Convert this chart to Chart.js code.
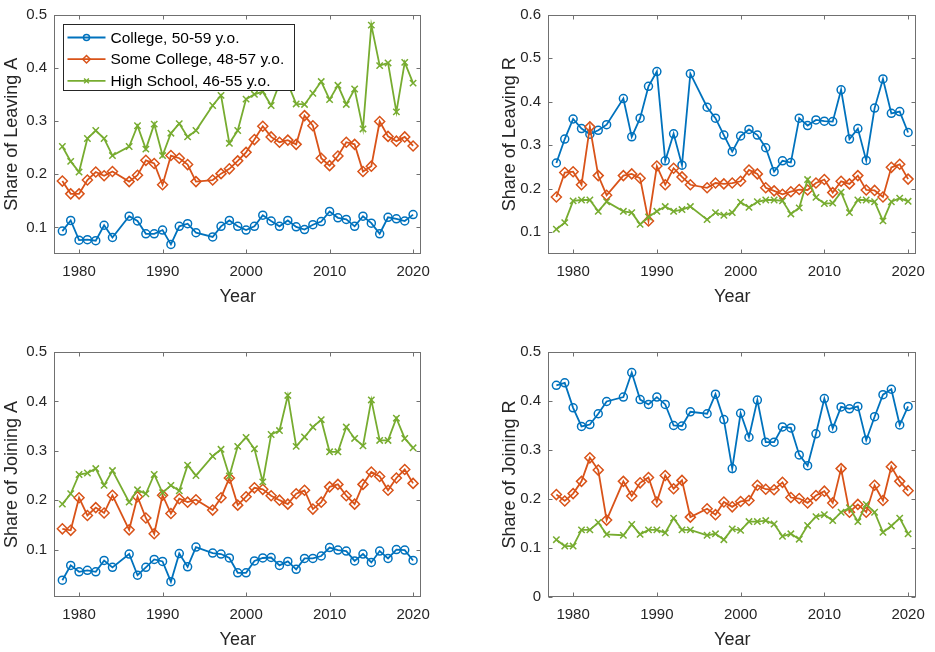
<!DOCTYPE html>
<html>
<head>
<meta charset="utf-8">
<title>Share of leaving and joining, by education</title>
<script src="https://cdn.jsdelivr.net/npm/chart.js@4.4.1/dist/chart.umd.min.js"></script>
<style>
  html, body { margin: 0; padding: 0; background: #fff; }
  #fig { position: relative; width: 935px; height: 652px; overflow: hidden; }
  #fig canvas { position: absolute; }
</style>
</head>
<body>
<div id="fig">
  <canvas id="leaveA" width="440" height="309" style="left:0;top:0"></canvas>
  <canvas id="leaveR" width="437" height="309" style="left:498px;top:0"></canvas>
  <canvas id="joinA" width="440" height="326" style="left:0;top:326px"></canvas>
  <canvas id="joinR" width="437" height="326" style="left:498px;top:326px"></canvas>
</div>
<script>
// Survey years (1985 and 1995 are not in the data)
const years = [1978, 1979, 1980, 1981, 1982, 1983, 1984,
  1986, 1987, 1988, 1989, 1990, 1991, 1992, 1993, 1994,
  1996, 1997, 1998, 1999, 2000, 2001, 2002, 2003, 2004, 2005, 2006, 2007, 2008,
  2009, 2010, 2011, 2012, 2013, 2014, 2015, 2016, 2017, 2018, 2019, 2020];

const seriesLabels = ['College, 50-59 y.o.', 'Some College, 48-57 y.o.', 'High School, 46-55 y.o.'];

// Share of leaving A
const leaveACollege = [.093, .113, .076, .077, .075, .104, .081,
  .121, .112, .088, .088, .095, .068, .102, .107, .090,
  .082, .102, .113, .102, .095, .102, .123, .112, .102, .113, .101, .096, .105,
  .111, .130, .118, .115, .102, .121, .108, .088, .119, .116, .112, .124];
const leaveASome = [.187, .163, .163, .189, .204, .197, .205,
  .186, .198, .226, .220, .180, .235, .230, .218, .186,
  .189, .201, .210, .225, .241, .265, .290, .270, .260, .264, .256, .310, .291,
  .230, .216, .234, .260, .256, .205, .215, .299, .271, .262, .270, .253];
const leaveAHigh = [.252, .224, .204, .267, .282, .267, .235,
  .252, .291, .247, .294, .235, .277, .295, .270, .282,
  .329, .348, .258, .282, .341, .350, .355, .329, .370, .370, .332, .331, .352,
  .374, .340, .367, .331, .360, .285, .480, .404, .409, .317, .410, .371];

// Share of leaving R
const leaveRCollege = [.259, .314, .360, .338, .325, .334, .347,
  .407, .319, .362, .435, .469, .264, .326, .254, .464,
  .387, .362, .323, .285, .321, .336, .323, .294, .239, .264, .260, .362, .345,
  .358, .355, .354, .427, .314, .338, .265, .385, .452, .373, .377, .329];
const leaveRSome = [.181, .237, .239, .209, .342, .230, .185,
  .230, .234, .224, .126, .252, .209, .247, .227, .209,
  .202, .213, .211, .213, .217, .243, .234, .202, .195, .187, .193, .198, .197,
  .213, .221, .191, .217, .211, .230, .197, .196, .181, .249, .256, .222];
const leaveRHigh = [.107, .122, .172, .174, .174, .148, .170,
  .148, .145, .118, .135, .148, .159, .148, .152, .159,
  .129, .145, .139, .145, .169, .157, .170, .174, .174, .172, .142, .156, .221,
  .180, .166, .167, .192, .145, .174, .174, .170, .126, .170, .178, .171];

// Share of joining A
const joinACollege = [.038, .068, .055, .058, .055, .078, .064,
  .091, .048, .064, .080, .076, .035, .092, .065, .105,
  .093, .091, .083, .053, .053, .077, .083, .084, .068, .076, .060, .082, .082,
  .087, .104, .099, .097, .077, .091, .074, .097, .082, .100, .099, .078];
const joinASome = [.142, .139, .205, .169, .185, .174, .210,
  .140, .207, .164, .132, .210, .173, .203, .196, .201,
  .180, .205, .245, .190, .207, .225, .222, .209, .200, .192, .213, .220, .182,
  .196, .227, .232, .209, .192, .232, .257, .248, .220, .245, .262, .234];
const joinAHigh = [.192, .213, .252, .255, .264, .230, .260,
  .196, .221, .213, .252, .215, .230, .219, .271, .250,
  .289, .303, .249, .309, .327, .304, .237, .333, .341, .412, .309, .328, .348,
  .363, .298, .298, .348, .325, .310, .403, .321, .321, .366, .325, .306];

// Share of joining R
const joinRCollege = [.432, .437, .386, .348, .352, .374, .399,
  .408, .458, .403, .393, .408, .393, .350, .349, .378,
  .374, .414, .362, .262, .375, .326, .402, .316, .316, .347, .345, .290, .268,
  .333, .405, .344, .388, .384, .389, .320, .368, .413, .424, .351, .389];
const joinRSome = [.209, .196, .211, .236, .284, .259, .157,
  .236, .206, .233, .244, .194, .248, .221, .238, .163,
  .180, .168, .194, .184, .195, .197, .228, .220, .219, .234, .203, .201, .192,
  .207, .216, .192, .262, .173, .189, .173, .228, .197, .266, .236, .217];
const joinRHigh = [.117, .104, .104, .137, .137, .152, .128,
  .126, .148, .128, .137, .137, .131, .161, .137, .137,
  .126, .129, .117, .139, .136, .154, .154, .156, .149, .124, .129, .118, .146,
  .164, .168, .156, .173, .182, .154, .189, .173, .132, .145, .161, .129];

// Tick values
const xTicks = [1980, 1990, 2000, 2010, 2020];
const yTicksTo05 = [0.1, 0.2, 0.3, 0.4, 0.5];
const yTicksTo06 = [0.1, 0.2, 0.3, 0.4, 0.5, 0.6];
const yTicksFrom0 = [0, 0.1, 0.2, 0.3, 0.4, 0.5];

// --- styles ---
const FONT = '"Liberation Sans", Arial, Helvetica, sans-serif';
const TEXT_COLOR = '#262626';
const AXIS_COLOR = '#707070';
const TICK_LEN = 4;
const LINE_STYLES = [
  { color: '#0072BD', pointStyle: 'circle', radius: 4 },
  { color: '#D95319', pointStyle: 'rectRot', radius: 5 },
  { color: '#77AC30', pointStyle: 'crossRot', radius: 4.5 }
];

// box around the plot area with inward tick marks on all four sides
const boxAndTicks = {
  id: 'boxAndTicks',
  afterDraw(chart) {
    const { ctx, chartArea: a, scales } = chart;
    const l = Math.round(a.left) + 0.5, r = Math.round(a.right) - 0.5;
    const t = Math.round(a.top) + 0.5, b = Math.round(a.bottom) - 0.5;
    ctx.save();
    ctx.strokeStyle = AXIS_COLOR;
    ctx.lineWidth = 1;
    ctx.beginPath();
    scales.x.ticks.forEach(tick => {
      const px = Math.round(scales.x.getPixelForValue(tick.value)) + 0.5;
      ctx.moveTo(px, b); ctx.lineTo(px, b - TICK_LEN);
      ctx.moveTo(px, t); ctx.lineTo(px, t + TICK_LEN);
    });
    scales.y.ticks.forEach(tick => {
      const py = Math.round(scales.y.getPixelForValue(tick.value)) + 0.5;
      ctx.moveTo(l, py); ctx.lineTo(l + TICK_LEN, py);
      ctx.moveTo(r, py); ctx.lineTo(r - TICK_LEN, py);
    });
    ctx.stroke();
    ctx.strokeRect(l, t, r - l, b - t);
    ctx.restore();
  }
};

function drawMarker(ctx, style, x, y, r) {
  ctx.beginPath();
  if (style === 'circle') {
    ctx.arc(x, y, r, 0, Math.PI * 2);
  } else if (style === 'rectRot') {
    ctx.moveTo(x, y - r); ctx.lineTo(x + r, y); ctx.lineTo(x, y + r); ctx.lineTo(x - r, y);
    ctx.closePath();
  } else {
    const d = r * Math.SQRT1_2;
    ctx.moveTo(x - d, y - d); ctx.lineTo(x + d, y + d);
    ctx.moveTo(x + d, y - d); ctx.lineTo(x - d, y + d);
  }
  ctx.stroke();
}

// legend in a white box inside the plot area (top-left panel only)
const boxLegend = {
  id: 'boxLegend',
  afterDatasetsDraw(chart, args, opts) {
    const { ctx, chartArea: a } = chart;
    const x0 = Math.round(a.left + opts.offsetX) + 0.5;
    const y0 = Math.round(a.top + opts.offsetY) + 0.5;
    ctx.save();
    ctx.fillStyle = '#fff';
    ctx.fillRect(x0, y0, opts.width, opts.height);
    ctx.strokeStyle = '#262626';
    ctx.lineWidth = 1;
    ctx.strokeRect(x0, y0, opts.width, opts.height);
    ctx.font = `${opts.fontSize}px ${FONT}`;
    ctx.textBaseline = 'middle';
    chart.data.datasets.forEach((ds, i) => {
      const y = y0 + opts.firstRow + i * opts.rowGap;
      ctx.strokeStyle = ds.borderColor;
      ctx.lineWidth = ds.borderWidth;
      ctx.beginPath();
      ctx.moveTo(x0 + 4, y); ctx.lineTo(x0 + 42, y);
      ctx.stroke();
      ctx.lineWidth = ds.pointBorderWidth;
      drawMarker(ctx, ds.pointStyle, x0 + 23, y, ds.pointRadius * 0.75);
      ctx.fillStyle = '#000';
      ctx.fillText(ds.label, x0 + 47, y + 1);
    });
    ctx.restore();
  }
};

function makeDataset(i, values) {
  const s = LINE_STYLES[i];
  return {
    label: seriesLabels[i],
    data: years.map((yr, k) => ({ x: yr, y: values[k] })),
    borderColor: s.color,
    borderWidth: 1.8,
    pointStyle: s.pointStyle,
    pointRadius: s.radius,
    pointBorderWidth: 1.5,
    pointBorderColor: s.color,
    pointBackgroundColor: 'rgba(0,0,0,0)',
    tension: 0,
    order: 3 - i
  };
}

function createPanel(id, yTitle, yMin, yMax, yTicks, values, opt) {
  const ctx = document.getElementById(id).getContext('2d');
  const plugins = [boxAndTicks];
  if (opt.legend) plugins.push(boxLegend);
  return new Chart(ctx, {
    type: 'line',
    data: { datasets: values.map((v, i) => makeDataset(i, v)) },
    plugins: plugins,
    options: {
      responsive: false,
      animation: false,
      events: [],
      layout: { padding: { top: opt.padTop, right: 10, left: 0, bottom: 0 } },
      scales: {
        x: {
          type: 'linear',
          min: 1977,
          max: 2021,
          grid: { display: false, drawTicks: false },
          border: { display: false },
          afterBuildTicks: s => { s.ticks = xTicks.map(v => ({ value: v })); },
          afterFit: s => { s.height = 55; },
          ticks: {
            autoSkip: false, maxRotation: 0, padding: 10, color: TEXT_COLOR,
            font: { family: FONT, size: 15, lineHeight: 1 },
            callback: v => String(v)
          },
          title: {
            display: true, text: 'Year', color: TEXT_COLOR,
            font: { family: FONT, size: 18 }, padding: { top: 0, bottom: 1 }
          }
        },
        y: {
          min: yMin,
          max: yMax,
          grid: { display: false, drawTicks: false },
          border: { display: false },
          afterBuildTicks: s => { s.ticks = yTicks.map(v => ({ value: v })); },
          afterFit: s => { s.width = opt.yWidth; },
          ticks: {
            padding: 7, color: TEXT_COLOR,
            font: { family: FONT, size: 15, lineHeight: 1 },
            callback: v => String(Math.round(v * 10) / 10)
          },
          title: {
            display: true, text: yTitle, color: TEXT_COLOR,
            font: { family: FONT, size: 18 }, padding: { top: 1, bottom: 0 }
          }
        }
      },
      plugins: {
        legend: { display: false },
        tooltip: { enabled: false },
        boxLegend: { offsetX: 9, offsetY: 9, width: 231, height: 66, firstRow: 13, rowGap: 21.7, fontSize: 15.5 }
      }
    }
  });
}

createPanel('leaveA', 'Share of Leaving A', 0.05, 0.5, yTicksTo05,
  [leaveACollege, leaveASome, leaveAHigh], { padTop: 8, yWidth: 54, legend: true });
createPanel('leaveR', 'Share of Leaving R', 0.05, 0.6, yTicksTo06,
  [leaveRCollege, leaveRSome, leaveRHigh], { padTop: 8, yWidth: 50, legend: false });
createPanel('joinA', 'Share of Joining A', 0.004, 0.5, yTicksTo05,
  [joinACollege, joinASome, joinAHigh], { padTop: 26, yWidth: 54, legend: false });
createPanel('joinR', 'Share of Joining R', 0, 0.5, yTicksFrom0,
  [joinRCollege, joinRSome, joinRHigh], { padTop: 26, yWidth: 50, legend: false });
</script>
</body>
</html>
